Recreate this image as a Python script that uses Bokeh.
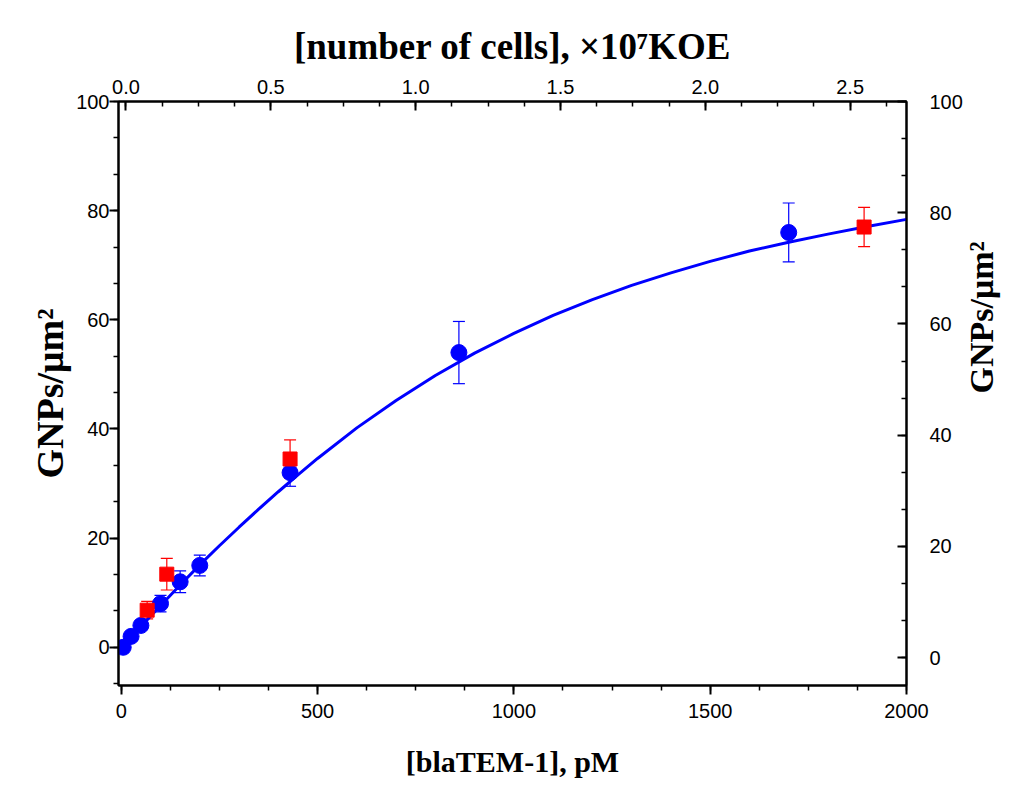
import math
from bokeh.plotting import figure
from bokeh.models import (Range1d, LinearAxis, SingleIntervalTicker,
                          PrintfTickFormatter)
from bokeh.embed import file_html
from bokeh.resources import INLINE

# ---------------- data ----------------
blue_x = [5, 25, 50, 100, 150, 200, 430, 860, 1700]
blue_y = [0, 2, 4, 8, 12, 15, 32, 54, 76]
blue_err = [0, 0, 0, 1.5, 2.0, 1.9, 2.5, 5.7, 5.4]

red_x = [66, 116, 430, 1892]
red_y = [6.8, 13.4, 34.5, 77.0]
red_err = [1.6, 2.9, 3.5, 3.6]

fit_x = [0, 50, 100, 150, 200, 250, 300, 350, 400, 450, 500, 600, 700, 800,
         900, 1000, 1100, 1200, 1300, 1400, 1500, 1600, 1700, 1800, 1900, 2000]
fit_y = [0, 3.8, 7.6, 11.4, 15.1, 18.6, 22.0, 25.3, 28.5, 31.6, 34.6, 40.2,
         45.2, 49.8, 53.9, 57.5, 60.8, 63.7, 66.3, 68.6, 70.7, 72.6, 74.2,
         75.7, 77.1, 78.4]

x_ticks_interval = 500
y_ticks_interval = 20
top_ticks_interval = 0.5

TITLE_FONT = "Liberation Serif"
TICK_FONT = "Liberation Sans"
BLUE = "#0000FF"
RED = "#FF0000"

p = figure(width=1021, height=780, output_backend="svg", toolbar_location=None,
           x_range=Range1d(-7, 2000), y_range=Range1d(-7, 100),
           min_border_left=118, min_border_right=113,
           min_border_top=101, min_border_bottom=95)
p.background_fill_color = "white"
p.border_fill_color = "white"
p.outline_line_color = "black"
p.outline_line_width = 2
p.grid.visible = False

p.extra_x_ranges = {"cells": Range1d(-0.0258, 2.6945)}
p.extra_y_ranges = {"right": Range1d(-5, 100)}

def style_axis(ax, outward=True):
    ax.axis_line_width = 2
    ax.axis_line_color = "black"
    ax.major_tick_line_width = 2
    ax.minor_tick_line_width = 1.5
    ax.major_tick_line_color = "black"
    ax.minor_tick_line_color = "black"
    if outward:
        ax.major_tick_out = 9
        ax.major_tick_in = 0
        ax.minor_tick_out = 5
        ax.minor_tick_in = 0
    else:
        ax.major_tick_out = 0
        ax.major_tick_in = 9
        ax.minor_tick_out = 0
        ax.minor_tick_in = 5
    ax.major_label_text_font = TICK_FONT
    ax.major_label_text_font_size = "20px"
    ax.major_label_text_color = "black"
    ax.axis_label_text_font = TITLE_FONT
    ax.axis_label_text_font_style = "bold"
    ax.axis_label_text_color = "black"

# bottom axis
xb = p.xaxis[0]
xb.ticker = SingleIntervalTicker(interval=x_ticks_interval, num_minor_ticks=4)
style_axis(xb, True)
xb.major_label_standoff = 9
xb.axis_label = "[blaTEM-1], pM"
xb.axis_label_text_font_size = "30px"
xb.axis_label_standoff = 24

# left axis
yl = p.yaxis[0]
yl.ticker = SingleIntervalTicker(interval=y_ticks_interval, num_minor_ticks=3)
style_axis(yl, True)
yl.major_label_standoff = 0
yl.axis_label = "GNPs/μm²"
yl.axis_label_text_font_size = "38px"
yl.axis_label_standoff = 2

# top axis
xt = LinearAxis(x_range_name="cells",
                ticker=SingleIntervalTicker(interval=top_ticks_interval, num_minor_ticks=4),
                formatter=PrintfTickFormatter(format="%.1f"))
style_axis(xt, False)
xt.major_label_standoff = 8
xt.axis_label = "[number of cells], ×10⁷KOE"
xt.axis_label_text_font_size = "37px"
xt.axis_label_standoff = 10
p.add_layout(xt, "above")

# right axis (title reads bottom to top, like the left one)
yr = LinearAxis(y_range_name="right",
                ticker=SingleIntervalTicker(interval=y_ticks_interval, num_minor_ticks=3))
style_axis(yr, False)
yr.major_label_standoff = 23
yr.axis_label = "GNPs/μm²"
yr.axis_label_text_font_size = "34px"
yr.axis_label_standoff = 16
yr.axis_label_orientation = math.pi / 2
p.add_layout(yr, "right")

# error bars
b_lo = [y - e for y, e in zip(blue_y, blue_err)]
b_hi = [y + e for y, e in zip(blue_y, blue_err)]
r_lo = [y - e for y, e in zip(red_y, red_err)]
r_hi = [y + e for y, e in zip(red_y, red_err)]

p.segment(x0=blue_x, y0=b_lo, x1=blue_x, y1=b_hi, line_color=BLUE, line_width=1.2)
p.scatter(x=blue_x + blue_x, y=b_lo + b_hi, marker="dash", size=12,
          line_color=BLUE, line_width=1.2)
p.segment(x0=red_x, y0=r_lo, x1=red_x, y1=r_hi, line_color=RED, line_width=1.2)
p.scatter(x=red_x + red_x, y=r_lo + r_hi, marker="dash", size=12,
          line_color=RED, line_width=1.2)

# fit curve
p.line(x=fit_x, y=fit_y, line_color=BLUE, line_width=3)

# markers
p.scatter(x=blue_x, y=blue_y, marker="circle", size=16,
          fill_color=BLUE, line_color=BLUE)
p.scatter(x=red_x, y=red_y, marker="square", size=14,
          fill_color=RED, line_color=RED)

open("out.html", "w").write(file_html(p, INLINE))
